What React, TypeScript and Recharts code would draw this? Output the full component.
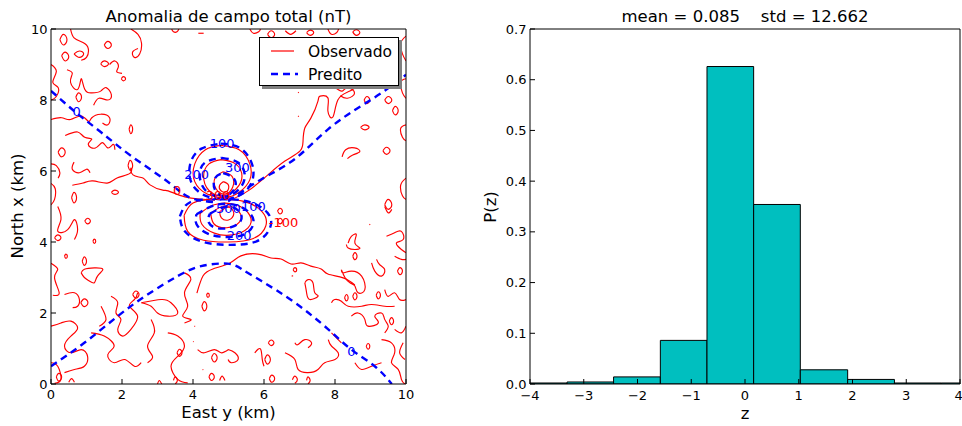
import React from 'react';
import { LineChart, Line, XAxis, YAxis, ReferenceDot, ComposedChart, ReferenceArea } from 'recharts';

type Pt = [number, number];

const FONT = '"DejaVu Sans", sans-serif';
const RED = '#ff0000';
const BLUE = '#0000ff';
const CYAN = '#00bfbf';

// ---- left panel: total field anomaly contours (km) ----
const mapTicks = [0, 2, 4, 6, 8, 10];

// predicted zero contour branches
const predZeroNW: Pt[] = [[0, 8.26], [0.7, 7.65], [1.41, 7.09], [2.25, 6.43], [3.19, 5.77], [3.66, 5.4], [4.04, 5.21], [4.6, 5.12]];
const predZeroNE: Pt[] = [[4.99, 5.15], [5.93, 5.77], [6.87, 6.34], [7.81, 7.18], [8.75, 7.84], [9.4, 8.26], [10, 8.71]];
const predZeroS: Pt[] = [[0, 0.5], [0.94, 1.16], [1.88, 1.91], [2.72, 2.52], [3.57, 3.04], [4.23, 3.32], [4.98, 3.39], [5.4, 3.22], [5.93, 2.9], [6.87, 2.29], [7.81, 1.54], [8.46, 0.97], [9.12, 0.5], [9.6, 0]];

// predicted dipole rings
const pred100: Pt[] = [[4.78, 6.77], [5.32, 6.65], [5.65, 6.23], [5.68, 5.76], [5.42, 5.38], [4.95, 5.21], [4.38, 5.29], [3.96, 5.66], [3.93, 6.23], [4.24, 6.63], [4.78, 6.77]];
const pred200: Pt[] = [[4.81, 6.37], [5.28, 6.23], [5.46, 5.85], [5.28, 5.47], [4.85, 5.27], [4.38, 5.43], [4.19, 5.85], [4.33, 6.23], [4.81, 6.37]];
const pred300: Pt[] = [[4.85, 5.94], [5.14, 5.8], [5.18, 5.52], [4.9, 5.29], [4.62, 5.47], [4.62, 5.8], [4.85, 5.94]];
const predM100: Pt[] = [[3.63, 4.72], [3.92, 5.12], [4.67, 5.2], [5.51, 5.15], [6.1, 4.82], [6.17, 4.4], [5.79, 4.02], [5.04, 3.92], [4.29, 4.0], [3.77, 4.3], [3.63, 4.72]];
const predM200: Pt[] = [[4.1, 4.78], [4.67, 5.05], [5.32, 5.0], [5.7, 4.63], [5.51, 4.25], [5.0, 4.14], [4.43, 4.23], [4.1, 4.5], [4.1, 4.78]];
const predM300: Pt[] = [[4.48, 4.8], [5.04, 5.0], [5.37, 4.72], [5.14, 4.44], [4.67, 4.39], [4.43, 4.58], [4.48, 4.8]];

// observed dipole rings
const obs100: Pt[] = [[4.78, 6.72], [5.3, 6.6], [5.6, 6.2], [5.6, 5.75], [5.3, 5.4], [4.9, 5.25], [4.4, 5.35], [4.05, 5.7], [4.05, 6.2], [4.35, 6.6], [4.78, 6.72]];
const obs200: Pt[] = [[4.8, 6.32], [5.2, 6.2], [5.38, 5.85], [5.22, 5.5], [4.85, 5.3], [4.45, 5.45], [4.3, 5.85], [4.45, 6.2], [4.8, 6.32]];
const obs300: Pt[] = [[4.85, 5.98], [5.1, 5.85], [5.12, 5.55], [4.9, 5.35], [4.65, 5.5], [4.62, 5.8], [4.85, 5.98]];
const obs400: Pt[] = [[4.85, 5.7], [5.0, 5.6], [4.95, 5.42], [4.78, 5.45], [4.75, 5.6], [4.85, 5.7]];
const obsM100: Pt[] = [[3.75, 4.75], [4.0, 5.1], [4.6, 5.2], [5.4, 5.15], [5.95, 4.85], [6.05, 4.45], [5.7, 4.1], [5.0, 4.0], [4.3, 4.05], [3.85, 4.3], [3.75, 4.75]];
const obsM200: Pt[] = [[4.2, 4.8], [4.6, 5.05], [5.2, 5.05], [5.6, 4.75], [5.55, 4.4], [5.1, 4.2], [4.6, 4.25], [4.25, 4.5], [4.2, 4.8]];
const obsM300: Pt[] = [[4.5, 4.8], [4.9, 5.02], [5.3, 4.85], [5.3, 4.55], [4.95, 4.4], [4.6, 4.5], [4.5, 4.8]];
const obsM400: Pt[] = [[4.75, 4.85], [5.0, 4.98], [5.15, 4.8], [5.0, 4.62], [4.8, 4.68], [4.75, 4.85]];

// observed zero contour main branches
const obsZeroW: Pt[] = [[0.6, 5.6], [0.9, 5.66], [1.18, 5.72], [1.58, 5.66], [1.86, 5.8], [2.23, 5.94], [2.25, 6.08], [2.31, 5.89], [2.59, 5.8], [2.79, 5.61], [3.15, 5.46], [3.3, 5.44], [3.77, 5.27], [4.2, 5.21], [4.62, 5.18]];
const obsZeroNE: Pt[] = [[4.99, 5.15], [5.55, 5.44], [6.11, 5.89], [6.59, 6.28], [7.01, 6.56], [7.1, 6.85], [7.15, 7.21], [7.32, 7.49], [7.52, 7.97], [7.58, 8.11], [7.8, 8.06], [7.8, 7.69], [7.94, 7.52], [8.08, 8.0], [8.37, 8.23], [8.56, 8.34]];
const obsZeroS: Pt[] = [[4.11, 2.56], [4.28, 3.04], [4.56, 3.24], [5.04, 3.41], [5.35, 3.61], [5.83, 3.66], [6.2, 3.55], [6.48, 3.52], [6.76, 3.38], [7.04, 3.41], [7.32, 3.32], [7.61, 3.24], [7.8, 3.1], [8.23, 2.99], [8.56, 2.79]];

// observed noise contours, by quadrant
const noiseNW: Pt[][] = [
  [[0.25, 9.7], [0.35, 9.85], [0.45, 9.7], [0.35, 9.55], [0.25, 9.7]],
  [[0.3, 9.25], [0.4, 9.35], [0.5, 9.22], [0.4, 9.1], [0.3, 9.25]],
  [[0.65, 9.3], [0.8, 9.38], [0.92, 9.3], [0.8, 9.2], [0.65, 9.3]],
  [[0.55, 10], [0.65, 9.75], [0.9, 9.62], [1.05, 9.45], [1.0, 9.2], [0.85, 9.12]],
  [[1.4, 9.02], [1.5, 9.1], [1.62, 9.02], [1.5, 8.94], [1.4, 9.02]],
  [[1.65, 9.0], [1.8, 9.1], [1.9, 8.95], [1.85, 8.8], [2.0, 8.75]],
  [[1.5, 9.55], [1.6, 9.65], [1.7, 9.55], [1.6, 9.45], [1.5, 9.55]],
  [[2.25, 10], [2.45, 9.85], [2.55, 9.6], [2.5, 9.3], [2.35, 9.2], [2.3, 9.35], [2.45, 9.45]],
  [[1.98, 8.6], [2.04, 8.66], [2.1, 8.6], [2.04, 8.54], [1.98, 8.6]],
  [[0, 9.0], [0.15, 8.8], [0.05, 8.5], [0.2, 8.35], [0.15, 8.1], [0, 8.0]],
  [[0.45, 8.85], [0.6, 8.75], [0.55, 8.5], [0.75, 8.3], [0.85, 8.6], [0.95, 8.3], [1.15, 8.2], [1.4, 8.25], [1.55, 8.35], [1.7, 8.15], [1.6, 8.0], [1.35, 8.05], [1.2, 7.85]],
  [[0.7, 8.08], [0.78, 8.2], [0.86, 8.08], [0.78, 7.95], [0.7, 8.08]],
  [[0, 7.45], [0.3, 7.5], [0.55, 7.45], [0.85, 7.55], [1.05, 7.4], [1.15, 7.5], [1.4, 7.6], [1.65, 7.5], [1.6, 7.3], [1.45, 7.35]],
  [[0.4, 7.0], [0.75, 7.1], [0.95, 6.95], [1.15, 6.9], [1.05, 6.75], [1.25, 6.65], [1.45, 6.8], [1.6, 6.65], [1.75, 6.75], [1.8, 6.6]],
  [[0.2, 6.53], [0.3, 6.65], [0.4, 6.53], [0.3, 6.4], [0.2, 6.53]],
  [[0, 6.2], [0.15, 6.15], [0.25, 5.95], [0.2, 5.8]],
  [[0.65, 6.25], [0.6, 6.05], [0.8, 5.95], [1.0, 6.05], [1.1, 5.95]],
  [[2.2, 7.18], [2.25, 7.3], [2.3, 7.18], [2.25, 7.05], [2.2, 7.18]],
  [[2.17, 6.15], [2.23, 6.3], [2.3, 6.15], [2.23, 6.02], [2.17, 6.15]],
  [[1.7, 5.4], [1.8, 5.46], [1.9, 5.4], [1.8, 5.34], [1.7, 5.4]],
  [[0.58, 5.25], [0.65, 5.4], [0.72, 5.25], [0.65, 5.1], [0.58, 5.25]],
  [[0, 5.65], [0.12, 5.5], [0.1, 5.2], [0, 5.05]],
  [[3.4, 10], [3.45, 9.92], [3.55, 9.92], [3.6, 10]],
  [[4.15, 9.88], [4.3, 9.88]],
];

const noiseNE: Pt[][] = [
  [[5.6, 10], [5.7, 9.88], [5.85, 9.92], [5.9, 10]],
  [[6.1, 9.85], [6.2, 9.95], [6.3, 9.85], [6.2, 9.75], [6.1, 9.85]],
  [[6.6, 9.95], [6.75, 9.85], [6.9, 9.95]],
  [[7.2, 9.9], [7.3, 9.97], [7.4, 9.9], [7.3, 9.82], [7.2, 9.9]],
  [[7.8, 10], [7.9, 9.85], [8.05, 9.9], [8.1, 10]],
  [[8.5, 9.92], [8.6, 9.98], [8.7, 9.9], [8.6, 9.82], [8.5, 9.92]],
  [[10, 9.8], [9.85, 9.6], [9.9, 9.3], [10, 9.1]],
  [[10, 8.6], [9.85, 8.5], [9.9, 8.2], [10, 8.05]],
  [[9.4, 8.0], [9.5, 8.1], [9.6, 8.0], [9.5, 7.9], [9.4, 8.0]],
  [[9.62, 7.7], [9.7, 7.82], [9.78, 7.7], [9.7, 7.58], [9.62, 7.7]],
  [[8.72, 7.23], [8.84, 7.3], [8.96, 7.23], [8.84, 7.16], [8.72, 7.23]],
  [[8.0, 8.35], [8.2, 8.25], [8.35, 8.35], [8.55, 8.2], [8.35, 8.05], [8.15, 8.12]],
  [[8.2, 6.4], [8.3, 6.6], [8.55, 6.65], [8.7, 6.55], [8.5, 6.45], [8.35, 6.35]],
  [[9.35, 6.57], [9.45, 6.67], [9.55, 6.57], [9.45, 6.47], [9.35, 6.57]],
  [[6.96, 8.22], [6.98, 8.2]],
  [[6.96, 7.55], [6.98, 7.53]],
  [[8.82, 8.0], [8.9, 8.1], [8.98, 8.0], [8.9, 7.9], [8.82, 8.0]],
  [[10, 7.3], [9.85, 7.2], [9.9, 6.95], [10, 6.85]],
  [[9.4, 5.05], [9.5, 5.2], [9.6, 5.05], [9.5, 4.92], [9.4, 5.05]],
  [[10, 5.8], [9.85, 5.6], [9.9, 5.3], [10, 5.2]],
];

const noiseSW: Pt[][] = [
  [[0.19, 5.0], [0.28, 4.63], [0.19, 4.3], [0.47, 4.35], [0.66, 4.63], [0.75, 4.35], [0.66, 4.07]],
  [[0.95, 4.59], [1.03, 4.67], [1.11, 4.59], [1.03, 4.51], [0.95, 4.59]],
  [[0.1, 4.12], [0.19, 4.2], [0.28, 4.12], [0.19, 4.04], [0.1, 4.12]],
  [[0.38, 3.6], [0.42, 3.66], [0.46, 3.6], [0.42, 3.54], [0.38, 3.6]],
  [[0.88, 3.46], [0.94, 3.58], [1.0, 3.46], [0.94, 3.34], [0.88, 3.46]],
  [[0, 3.4], [0.19, 3.23], [0.1, 2.99], [0.23, 2.57], [0.05, 2.5]],
  [[0.85, 3.13], [0.94, 3.23], [1.22, 3.27], [1.46, 3.23], [1.31, 3.04], [1.22, 2.85], [1.08, 2.9], [0.94, 3.0], [0.85, 3.13]],
  [[0.84, 2.29], [0.94, 2.4], [1.04, 2.29], [0.94, 2.18], [0.84, 2.29]],
  [[0.38, 2.52], [0.66, 2.57], [0.8, 2.38], [0.75, 2.19], [0.61, 2.15]],
  [[1.69, 2.47], [1.88, 2.29], [1.83, 2.0], [1.97, 1.82], [1.88, 1.54], [2.02, 1.35], [2.25, 1.54], [2.44, 1.91], [2.21, 2.19], [2.35, 2.38], [2.44, 2.57]],
  [[1.41, 2.19], [1.55, 1.82], [1.36, 1.63]],
  [[0, 1.63], [0.28, 1.72], [0.56, 1.77], [0.75, 1.58], [0.56, 1.35], [0.38, 1.07], [0.56, 0.88], [0.85, 0.97], [1.03, 0.78], [0.94, 0.5], [0.66, 0.41], [0.38, 0.32]],
  [[1.13, 1.44], [1.5, 1.35], [1.78, 1.07], [1.6, 0.83], [1.78, 0.6], [2.07, 0.69], [2.35, 0.5], [2.54, 0.6]],
  [[2.54, 2.29], [2.82, 2.19], [3.0, 2.0], [3.29, 1.91], [3.57, 2.0], [3.38, 2.29], [3.1, 2.38], [2.54, 2.29]],
  [[2.3, 2.52], [2.39, 2.62], [2.48, 2.52], [2.39, 2.42], [2.3, 2.52]],
  [[2.82, 1.82], [2.91, 1.44], [2.72, 1.07], [2.86, 0.78], [2.72, 0.6]],
  [[3.55, 0.88], [3.62, 0.98], [3.69, 0.88], [3.62, 0.78], [3.55, 0.88]],
  [[3.76, 3.13], [3.94, 2.94], [3.76, 2.57], [3.85, 2.19], [3.71, 1.91], [3.94, 1.82], [3.76, 1.72]],
  [[4.25, 2.19], [4.32, 2.32], [4.39, 2.19], [4.32, 2.06], [4.25, 2.19]],
  [[4.38, 2.5], [4.42, 2.56], [4.46, 2.5], [4.42, 2.44], [4.38, 2.5]],
  [[3.29, 1.44], [3.57, 1.35], [3.76, 1.07], [3.57, 0.78], [3.38, 0.5], [3.57, 0.13], [3.85, 0.03]],
  [[4.52, 0.74], [4.6, 0.86], [4.68, 0.74], [4.6, 0.62], [4.52, 0.74]],
  [[4.13, 0.97], [4.32, 0.88], [4.6, 0.97], [4.79, 0.88], [5.0, 0.97]],
  [[0.15, 0.2], [0.22, 0.3], [0.3, 0.2], [0.22, 0.08], [0.15, 0.2]],
  [[0.5, 0.05], [0.58, 0.15], [0.66, 0.05]],
  [[3.0, 0.0], [3.05, 0.1], [3.12, 0.0]],
  [[3.45, 0.1], [3.5, 0.2], [3.56, 0.1], [3.5, 0.0]],
  [[4.45, 0.2], [4.52, 0.3], [4.6, 0.2], [4.52, 0.1], [4.45, 0.2]],
  [[4.75, 0.1], [4.82, 0.22], [4.9, 0.1]],
  [[0, 0.6], [0.19, 0.5], [0.28, 0.13], [0.1, 0.02]],
  [[4.04, 1.63], [4.06, 1.62]],
  [[4.0, 1.2], [4.02, 1.19]],
  [[4.27, 0.41], [4.29, 0.4]],
  [[1.18, 4.02], [1.22, 4.08], [1.26, 4.02], [1.22, 3.96], [1.18, 4.02]],
];

const noiseSE: Pt[][] = [
  [[9.4, 5.0], [9.5, 4.82], [9.6, 4.92]],
  [[6.38, 4.87], [6.45, 4.95], [6.52, 4.87], [6.45, 4.79], [6.38, 4.87]],
  [[6.38, 4.59], [6.45, 4.67], [6.52, 4.59], [6.45, 4.51], [6.38, 4.59]],
  [[8.37, 3.97], [8.46, 4.16], [8.6, 4.21], [8.56, 3.97], [8.7, 3.83], [8.56, 3.79], [8.37, 3.83], [8.32, 3.93]],
  [[8.5, 3.6], [8.56, 3.7], [8.62, 3.6], [8.56, 3.5], [8.5, 3.6]],
  [[8.97, 4.5], [8.99, 4.48]],
  [[9.45, 4.16], [9.68, 4.26], [9.87, 4.3], [9.92, 4.07], [9.73, 3.97], [9.87, 3.79], [10, 3.7]],
  [[9.03, 3.41], [9.12, 3.18], [9.31, 3.04], [9.4, 3.22], [9.26, 3.36], [9.17, 3.51]],
  [[9.76, 3.18], [9.83, 3.28], [9.9, 3.18], [9.83, 3.08], [9.76, 3.18]],
  [[9.68, 3.6], [9.87, 3.51], [10, 3.51]],
  [[8.18, 3.22], [8.23, 3.13], [8.46, 3.18], [8.75, 3.04], [8.84, 2.66], [8.65, 2.57], [8.56, 2.76], [8.42, 2.85], [8.28, 3.0], [8.18, 3.22]],
  [[8.5, 2.47], [8.56, 2.57], [8.62, 2.47], [8.56, 2.37], [8.5, 2.47]],
  [[8.27, 2.43], [8.32, 2.52], [8.37, 2.43], [8.32, 2.34], [8.27, 2.43]],
  [[6.82, 3.22], [6.87, 3.28], [6.92, 3.22], [6.87, 3.16], [6.82, 3.22]],
  [[6.78, 3.04], [6.82, 3.05]],
  [[7.15, 2.85], [7.24, 2.94], [7.38, 2.85], [7.43, 2.57], [7.52, 2.47], [7.29, 2.38], [7.2, 2.57], [7.15, 2.85]],
  [[7.9, 2.29], [7.99, 2.38], [8.18, 2.33], [8.37, 2.19], [8.75, 2.19], [9.03, 2.24], [9.4, 2.19], [9.68, 2.19]],
  [[9.4, 2.66], [9.5, 2.47], [9.68, 2.57], [9.82, 2.38], [10, 2.38]],
  [[8.46, 1.91], [8.65, 2.0], [8.84, 1.82], [8.93, 1.63], [9.22, 1.72], [9.12, 1.91], [9.31, 2.0], [9.4, 1.82], [9.5, 1.63], [9.4, 1.44]],
  [[9.53, 1.77], [9.59, 1.87], [9.65, 1.77], [9.59, 1.67], [9.53, 1.77]],
  [[9.16, 2.5], [9.22, 2.6], [9.28, 2.5], [9.22, 2.4], [9.16, 2.5]],
  [[9.68, 1.54], [9.87, 1.44], [10, 1.63]],
  [[9.92, 1.16], [9.82, 0.88], [9.97, 0.69]],
  [[4.99, 0.97], [5.18, 0.88], [5.27, 0.69], [5.08, 0.6], [4.99, 0.69]],
  [[6.02, 0.69], [6.1, 0.82], [6.18, 0.69], [6.1, 0.56], [6.02, 0.69]],
  [[6.12, 1.16], [6.2, 1.24], [6.28, 1.16], [6.2, 1.08], [6.12, 1.16]],
  [[5.74, 0.88], [5.9, 0.99], [5.95, 0.7], [6.0, 0.5]],
  [[6.87, 1.16], [6.96, 1.11], [7.15, 1.25], [7.34, 1.16], [7.24, 1.02]],
  [[6.59, 0.88], [6.87, 0.69], [6.96, 0.41], [7.24, 0.32], [7.52, 0.41], [7.71, 0.6], [8.0, 0.69], [8.09, 0.88], [7.9, 1.07], [7.81, 1.25]],
  [[7.9, 1.44], [8.09, 1.25], [8.18, 1.16]],
  [[7.2, 0.1], [7.24, 0.2], [7.3, 0.1], [7.24, 0.0]],
  [[6.8, 0.12], [6.87, 0.22], [6.94, 0.12], [6.87, 0.02]],
  [[6.15, 0.15], [6.22, 0.25], [6.3, 0.15], [6.22, 0.05], [6.15, 0.15]],
  [[8.56, 0.6], [8.75, 0.41], [9.03, 0.5], [9.31, 0.6]],
  [[9.31, 1.25], [9.59, 1.16], [9.68, 0.88], [9.59, 0.6], [9.78, 0.41], [9.87, 0.13], [9.97, 0]],
  [[8.88, 1.06], [8.93, 1.14], [8.98, 1.06], [8.93, 0.98], [8.88, 1.06]],
];

// contour labels drawn on the map
const contourLabels: { x: number; y: number; text: string; color: string }[] = [
  { x: 0.72, y: 7.68, text: '0', color: BLUE },
  { x: 8.46, y: 0.93, text: '0', color: BLUE },
  { x: 4.82, y: 6.77, text: '100', color: BLUE },
  { x: 5.25, y: 6.1, text: '300', color: BLUE },
  { x: 4.1, y: 5.9, text: '200', color: BLUE },
  { x: 4.7, y: 5.3, text: '300', color: RED },
  { x: 5.0, y: 4.95, text: '500', color: BLUE },
  { x: 5.7, y: 5.0, text: '100', color: BLUE },
  { x: 6.55, y: 4.55, text: '-100', color: RED },
  { x: 5.3, y: 4.2, text: '200', color: BLUE },
  { x: 3.55, y: 5.45, text: '0', color: RED },
];

// ---- right panel: residual histogram ----
const histXTicks = [-4, -3, -2, -1, 0, 1, 2, 3, 4];
const histYTicks = [0, 0.1, 0.2, 0.3, 0.4, 0.5, 0.6, 0.7];
const binEdges = [-4.18, -3.31, -2.445, -1.575, -0.707, 0.161, 1.029, 1.91, 2.78, 3.65, 4.52];
const binHeights = [0.002, 0.004, 0.014, 0.086, 0.626, 0.354, 0.028, 0.009, 0.002, 0.002];

const rows = (pts: Pt[]) => pts.map(([x, y]) => ({ x, y }));
const histRows = binHeights.map((h, i) => ({ x: (binEdges[i] + binEdges[i + 1]) / 2, h }));

const tickStyle = { fill: '#000', fontSize: 13, fontFamily: FONT };

function Caption({ x, y, text, size = 16.5, rotate = false }: { x: number; y: number; text: string; size?: number; rotate?: boolean }) {
  return (
    <div
      style={{
        position: 'absolute',
        left: x,
        top: y,
        transform: `translate(-50%, -50%)${rotate ? ' rotate(-90deg)' : ''}`,
        fontSize: size,
        fontFamily: FONT,
        lineHeight: 1,
        whiteSpace: 'pre',
        color: '#000',
      }}
    >
      {text}
    </div>
  );
}

function contour(pts: Pt[], key: string, dashed: boolean) {
  return (
    <Line
      key={key}
      data={rows(pts)}
      dataKey="y"
      type="natural"
      stroke={dashed ? BLUE : RED}
      strokeWidth={dashed ? 2.4 : 1.15}
      strokeDasharray={dashed ? '7 5' : undefined}
      dot={false}
      activeDot={false}
      isAnimationActive={false}
      legendType="none"
    />
  );
}

function MapLegend() {
  return (
    <div
      style={{
        position: 'absolute',
        left: 259,
        top: 37,
        width: 138,
        height: 47,
        border: '1px solid #000',
        background: '#fff',
        boxShadow: '3px 3px 0 #808080',
      }}
    >
      <svg width={138} height={47} style={{ display: 'block' }}>
        <line x1={11} x2={34} y1={13} y2={13} stroke={RED} strokeWidth={1.2} />
        <line x1={11} x2={38} y1={36} y2={36} stroke={BLUE} strokeWidth={2.4} strokeDasharray="7 5" />
        <text x={48} y={19} fontSize={15.5} fontFamily={FONT} fill="#000">Observado</text>
        <text x={48} y={42} fontSize={15.5} fontFamily={FONT} fill="#000">Predito</text>
      </svg>
    </div>
  );
}

function ContourMap() {
  const predicted = [predZeroNW, predZeroNE, predZeroS, pred100, pred200, pred300, predM100, predM200, predM300];
  const observed = [obsZeroW, obsZeroNE, obsZeroS, obs100, obs200, obs300, obs400, obsM100, obsM200, obsM300, obsM400];
  const noise = [...noiseNW, ...noiseNE, ...noiseSW, ...noiseSE];
  return (
    <LineChart width={420} height={426} margin={{ top: 28, right: 13, left: 0, bottom: 0 }} style={{ fontFamily: FONT }}>
      <XAxis dataKey="x" type="number" domain={[0, 10]} ticks={mapTicks} allowDataOverflow height={42}
        stroke="#000" tick={tickStyle} tickSize={-5} tickMargin={11} />
      <XAxis xAxisId="top" orientation="top" type="number" domain={[0, 10]} ticks={mapTicks} height={1}
        stroke="#000" tick={false} tickSize={-5} />
      <YAxis type="number" domain={[0, 10]} ticks={mapTicks} allowDataOverflow width={51}
        stroke="#000" tick={tickStyle} tickSize={-5} tickMargin={8.5} />
      <YAxis yAxisId="right" orientation="right" type="number" domain={[0, 10]} ticks={mapTicks} width={1}
        stroke="#000" tick={false} tickSize={-5} />
      {noise.map((p, i) => contour(p, `n${i}`, false))}
      {observed.map((p, i) => contour(p, `o${i}`, false))}
      {predicted.map((p, i) => contour(p, `p${i}`, true))}
      {contourLabels.map((l, i) => (
        <ReferenceDot key={`l${i}`} x={l.x} y={l.y} r={0} stroke="none" fill="none"
          label={{ value: l.text, position: 'center', fill: l.color, fontSize: 13, fontFamily: FONT }} />
      ))}
    </LineChart>
  );
}

function Histogram() {
  const fmtX = (v: number) => (v < 0 ? `\u2212${-v}` : `${v}`);
  return (
    <ComposedChart width={482} height={426} data={histRows} margin={{ top: 28, right: 1, left: 0, bottom: 0 }} style={{ fontFamily: FONT }}>
      <XAxis dataKey="x" type="number" domain={[-4, 4]} ticks={histXTicks} allowDataOverflow height={42}
        stroke="#000" tick={tickStyle} tickSize={-5} tickMargin={12} tickFormatter={fmtX} />
      <XAxis xAxisId="top" dataKey="x" orientation="top" type="number" domain={[-4, 4]} ticks={histXTicks} allowDataOverflow height={1}
        stroke="#000" tick={false} tickSize={-5} />
      <YAxis type="number" domain={[0, 0.7]} ticks={histYTicks} allowDataOverflow width={50}
        stroke="#000" tick={tickStyle} tickSize={-5} tickMargin={8.5} tickFormatter={(v: number) => v.toFixed(1)} />
      <YAxis yAxisId="right" orientation="right" type="number" domain={[0, 0.7]} ticks={histYTicks} allowDataOverflow width={1}
        stroke="#000" tick={false} tickSize={-5} />
      {binHeights.map((h, i) => (
        <ReferenceArea key={`b${i}`} x1={binEdges[i]} x2={binEdges[i + 1]} y1={0} y2={h}
          fill={CYAN} fillOpacity={1} stroke="#000" strokeWidth={1} ifOverflow="hidden" />
      ))}
      <Line dataKey="h" stroke="none" dot={false} activeDot={false} isAnimationActive={false} legendType="none" />
    </ComposedChart>
  );
}

export default function App() {
  return (
    <div style={{ position: 'absolute', left: 0, top: 0, width: 962, height: 426, background: '#fff', overflow: 'hidden' }}>
      <div style={{ position: 'absolute', left: 0, top: 0 }}>
        <ContourMap />
      </div>
      <MapLegend />
      <div style={{ position: 'absolute', left: 480, top: 0 }}>
        <Histogram />
      </div>
      <Caption x={228.5} y={413} text="East y (km)" />
      <Caption x={228.5} y={17} text="Anomalia de campo total (nT)" />
      <Caption x={18} y={206} text="North x (km)" rotate />
      <Caption x={745} y={17} text={'mean = 0.085    std = 12.662'} />
      <Caption x={745} y={414} text="z" />
      <Caption x={491} y={207} text="P(z)" rotate />
    </div>
  );
}
